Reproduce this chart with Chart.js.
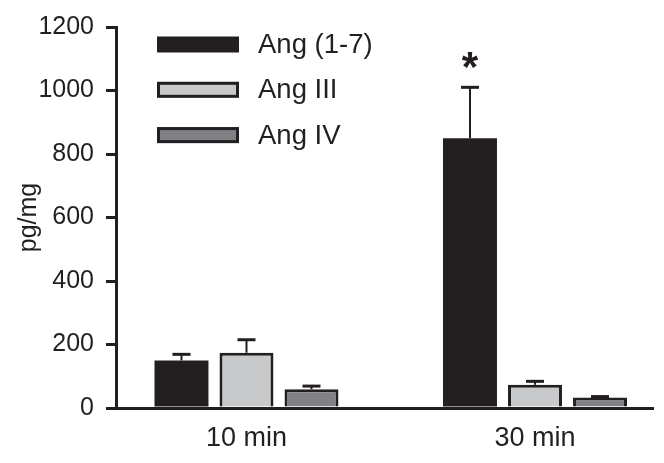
<!DOCTYPE html>
<html>
<head>
<meta charset="utf-8">
<script src="https://cdn.jsdelivr.net/npm/chart.js@4"></script>
<style>
  body { margin: 0; background: #fff; }
  #wrap { width: 664px; height: 463px; }
</style>
</head>
<body>
<div id="wrap"><canvas id="chart"></canvas></div>
<script>
// Data
const timeLabels = ["10 min", "30 min"];
const timePositions = [1, 2];
const seriesNames = ["Ang (1-7)", "Ang III", "Ang IV"];
const ang17 = [150, 850];
const ang3 = [174, 73];
const ang4 = [59, 33];
const ang17Sem = [19, 160];
const ang3Sem = [41, 11];
const ang4Sem = [10, 3];
const ang17Marks = ["", "*"];

const ink = "#231f20";
const fonts = "'Liberation Sans', Arial, sans-serif";

function points(values) {
    return values.map((v, i) => ({ x: timePositions[i], y: v }));
}

// error bars (upper only) + significance marks
const errorBars = {
    id: "errorBars",
    afterDatasetsDraw(chart) {
        const ctx = chart.ctx;
        const yScale = chart.scales.y;
        chart.data.datasets.forEach((ds, di) => {
            const meta = chart.getDatasetMeta(di);
            meta.data.forEach((bar, i) => {
                const top = yScale.getPixelForValue(ds.data[i].y + ds.sem[i]);
                ctx.save();
                ctx.strokeStyle = ink;
                ctx.lineWidth = 2;
                ctx.beginPath();
                ctx.moveTo(bar.x, bar.y);
                ctx.lineTo(bar.x, top);
                ctx.stroke();
                ctx.lineWidth = 3;
                ctx.beginPath();
                ctx.moveTo(bar.x - 9, top);
                ctx.lineTo(bar.x + 9, top);
                ctx.stroke();
                if (ds.marks && ds.marks[i]) {
                    ctx.fillStyle = ink;
                    ctx.font = "bold 42px " + fonts;
                    ctx.textAlign = "center";
                    ctx.textBaseline = "alphabetic";
                    ctx.fillText(ds.marks[i], bar.x, top - 6);
                }
                ctx.restore();
            });
        });
    }
};

// legend drawn inside the plot area
const insideLegend = {
    id: "insideLegend",
    afterDraw(chart) {
        const ctx = chart.ctx;
        chart.data.datasets.forEach((ds, i) => {
            const cy = 44.5 + i * 45.3;
            ctx.save();
            ctx.fillStyle = ds.backgroundColor;
            ctx.fillRect(157, cy - 8, 82, 16);
            if (ds.borderWidth) {
                ctx.strokeStyle = ink;
                ctx.lineWidth = 3;
                ctx.strokeRect(158.5, cy - 6.5, 79, 13);
            }
            ctx.fillStyle = ink;
            ctx.font = "27.5px " + fonts;
            ctx.textAlign = "left";
            ctx.textBaseline = "middle";
            ctx.fillText(ds.label, 258, cy + 1);
            ctx.restore();
        });
    }
};

new Chart(document.getElementById("chart"), {
    type: "bar",
    data: {
        datasets: [
            { label: seriesNames[0], data: points(ang17), sem: ang17Sem, marks: ang17Marks,
              backgroundColor: ink, borderWidth: 0 },
            { label: seriesNames[1], data: points(ang3), sem: ang3Sem,
              backgroundColor: "#c8c9cb", borderColor: ink, borderWidth: 3 },
            { label: seriesNames[2], data: points(ang4), sem: ang4Sem,
              backgroundColor: "#808184", borderColor: ink, borderWidth: 3 },
        ],
    },
    options: {
        responsive: true,
        maintainAspectRatio: false,
        animation: false,
        devicePixelRatio: 1,
        categoryPercentage: 0.676,
        barPercentage: 0.83,
        layout: { padding: { top: 20, right: 11, left: 0, bottom: 0 } },
        plugins: { legend: { display: false }, tooltip: { enabled: false } },
        scales: {
            x: {
                type: "linear",
                offset: false,
                min: 0.5477,
                max: 2.409,
                afterBuildTicks: (scale) => { scale.ticks = timePositions.map(v => ({ value: v })); },
                afterFit: (scale) => { scale.height = 55; },
                grid: { display: false, drawTicks: false },
                border: { color: ink, width: 3 },
                ticks: {
                    padding: 14,
                    color: ink,
                    font: { family: fonts, size: 27 },
                    callback: (value, index) => timeLabels[index],
                },
            },
            y: {
                min: 0,
                max: 1200,
                afterFit: (scale) => { scale.width = 116; },
                grid: { drawOnChartArea: false, tickLength: 10, lineWidth: 3, color: ink },
                border: { color: ink, width: 3 },
                ticks: {
                    stepSize: 200, padding: 12, color: ink,
                    font: { family: fonts, size: 25 },
                    callback: (value) => String(value),
                },
                title: { display: true, text: "pg/mg", color: ink, padding: { top: 14, bottom: 0 },
                         font: { family: fonts, size: 25 } },
            },
        },
    },
    plugins: [errorBars, insideLegend],
});
</script>
</body>
</html>
